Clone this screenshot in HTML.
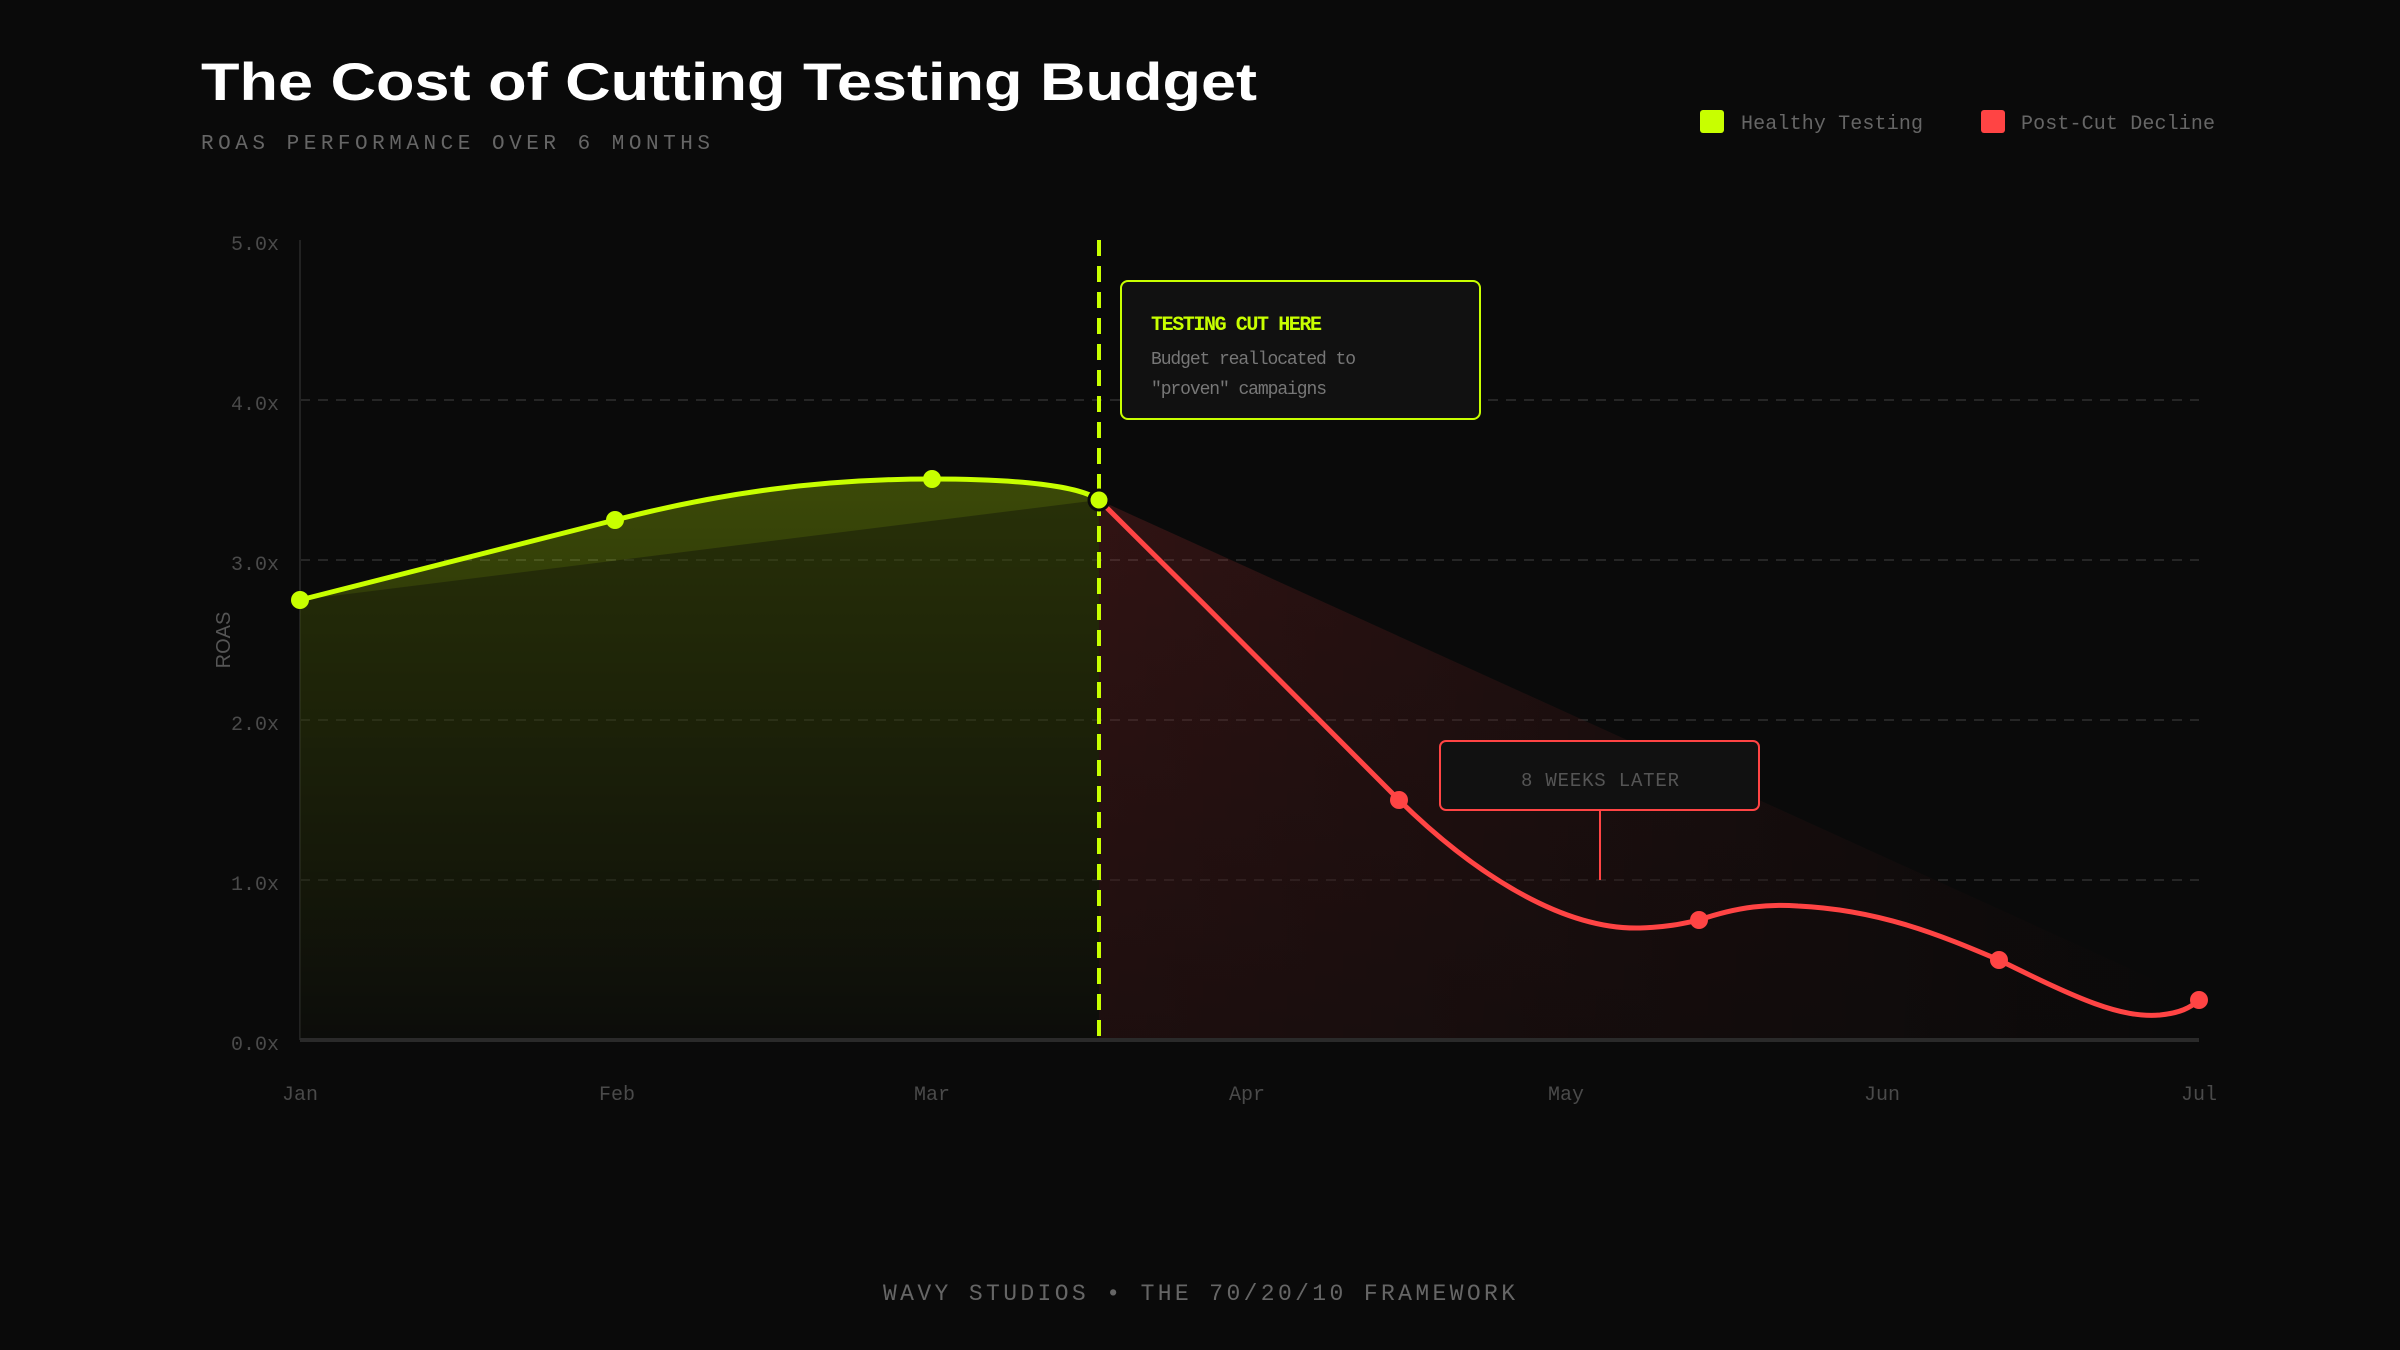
<!DOCTYPE html>
<html><head><meta charset="utf-8"><style>
html,body{margin:0;padding:0;background:#0a0a0a;}
svg{display:block;}
</style></head><body>
<svg width="2400" height="1350" viewBox="0 0 2400 1350" xmlns="http://www.w3.org/2000/svg">
<defs>
<linearGradient id="gg" x1="0" y1="480" x2="0" y2="1040" gradientUnits="userSpaceOnUse">
<stop offset="0" stop-color="#c8ff00" stop-opacity="0.26"/>
<stop offset="1" stop-color="#c8ff00" stop-opacity="0.02"/>
</linearGradient>
<linearGradient id="rg" x1="1099" y1="0" x2="2199" y2="0" gradientUnits="userSpaceOnUse">
<stop offset="0" stop-color="#ff4444" stop-opacity="0.16"/>
<stop offset="1" stop-color="#ff4444" stop-opacity="0.0"/>
</linearGradient>
<linearGradient id="rgv" x1="0" y1="500" x2="0" y2="1040" gradientUnits="userSpaceOnUse">
<stop offset="0" stop-color="#0a0a0a" stop-opacity="0"/>
<stop offset="1" stop-color="#0a0a0a" stop-opacity="0.5"/>
</linearGradient>
</defs>
<rect width="2400" height="1350" fill="#0a0a0a"/>

<!-- Title -->
<text x="201" y="100" font-family="Liberation Sans, sans-serif" font-weight="bold" font-size="53" fill="#ffffff" textLength="1056" lengthAdjust="spacingAndGlyphs">The Cost of Cutting Testing Budget</text>
<text x="201" y="149" font-family="Liberation Mono, monospace" font-size="21" fill="#666" textLength="509" lengthAdjust="spacing">ROAS PERFORMANCE OVER 6 MONTHS</text>

<!-- Legend -->
<rect x="1700" y="110" width="24" height="23" rx="3" fill="#c8ff00"/>
<text x="1741" y="129" font-family="Liberation Mono, monospace" font-size="20" fill="#666" textLength="182">Healthy Testing</text>
<rect x="1981" y="110" width="24" height="23" rx="3" fill="#ff4444"/>
<text x="2021" y="129" font-family="Liberation Mono, monospace" font-size="20" fill="#666" textLength="194">Post-Cut Decline</text>

<!-- grid -->
<g stroke="#262626" stroke-width="2" stroke-dasharray="10 8">
<line x1="300" y1="400" x2="2199" y2="400"/>
<line x1="300" y1="560" x2="2199" y2="560"/>
<line x1="300" y1="720" x2="2199" y2="720"/>
<line x1="300" y1="880" x2="2199" y2="880"/>
</g>
<line x1="300" y1="240" x2="300" y2="1040" stroke="#222" stroke-width="2"/>

<!-- y ticks -->
<g font-family="Liberation Mono, monospace" font-size="20" fill="#4a4a4a" text-anchor="end">
<text x="279" y="250">5.0x</text>
<text x="279" y="410">4.0x</text>
<text x="279" y="570">3.0x</text>
<text x="279" y="730">2.0x</text>
<text x="279" y="890">1.0x</text>
<text x="279" y="1050">0.0x</text>
</g>
<text transform="translate(230,640) rotate(-90)" text-anchor="middle" font-family="Liberation Sans, sans-serif" font-size="20" fill="#555">ROAS</text>

<!-- fills -->
<path d="M300,600 C420,570 520,545 615,520 C720,493 820,479 932,479 C1020,479 1080,486 1099,500 L1099,1040 L300,1040 Z" fill="url(#gg)"/>
<path d="M300,600 L1099,500 L1099,1040 L300,1040 Z" fill="#0a0a0a" fill-opacity="0.38"/>
<path d="M1099,500 L2199,1000 L2199,1040 L1099,1040 Z" fill="url(#rg)"/>
<path d="M1099,500 L2199,1000 L2199,1040 L1099,1040 Z" fill="url(#rgv)"/>

<!-- x axis -->
<line x1="300" y1="1040" x2="2199" y2="1040" stroke="#2a2a2a" stroke-width="4"/>

<!-- cut line -->
<line x1="1099" y1="240" x2="1099" y2="1040" stroke="#c8ff00" stroke-width="4" stroke-dasharray="16 10"/>

<!-- lines -->
<path d="M300,600 C420,570 520,545 615,520 C720,493 820,479 932,479 C1020,479 1080,486 1099,500" fill="none" stroke="#c8ff00" stroke-width="5"/>
<path d="M1099,500 C1200,600 1330,730 1399,800 C1470,870 1560,930 1640,928 C1670,927 1685,923 1699,920 C1740,906 1770,904 1798,906 C1880,910 1940,935 1999,960 C2080,1000 2120,1018 2160,1015 C2180,1013 2190,1008 2199,1000" fill="none" stroke="#ff4444" stroke-width="5"/>

<!-- dots -->
<g fill="#c8ff00">
<circle cx="300" cy="600" r="9"/>
<circle cx="615" cy="520" r="9"/>
<circle cx="932" cy="479" r="9"/>
</g>
<circle cx="1099" cy="500" r="10" fill="#c8ff00" stroke="#0a0a0a" stroke-width="3"/>
<g fill="#ff4444">
<circle cx="1399" cy="800" r="9"/>
<circle cx="1699" cy="920" r="9"/>
<circle cx="1999" cy="960" r="9"/>
<circle cx="2199" cy="1000" r="9"/>
</g>

<!-- annotation 1 -->
<rect x="1121" y="281" width="359" height="138" rx="7" fill="#111" stroke="#c8ff00" stroke-width="2"/>
<text x="1151" y="330" font-family="Liberation Mono, monospace" font-weight="bold" font-size="20" fill="#c8ff00" textLength="171">TESTING CUT HERE</text>
<text x="1151" y="364" font-family="Liberation Mono, monospace" font-size="18" fill="#777" textLength="205">Budget reallocated to</text>
<text x="1151" y="394" font-family="Liberation Mono, monospace" font-size="18" fill="#777" textLength="176">"proven" campaigns</text>

<!-- annotation 2 -->
<line x1="1600" y1="810" x2="1600" y2="880" stroke="#ff4444" stroke-width="2"/>
<rect x="1440" y="741" width="319" height="69" rx="6" fill="#111" stroke="#ff4444" stroke-width="2"/>
<text x="1600" y="786" text-anchor="middle" font-family="Liberation Mono, monospace" font-size="19" fill="#555" textLength="158">8 WEEKS LATER</text>

<!-- x labels -->
<g font-family="Liberation Mono, monospace" font-size="20" fill="#4a4a4a" text-anchor="middle">
<text x="300" y="1100">Jan</text>
<text x="617" y="1100">Feb</text>
<text x="932" y="1100">Mar</text>
<text x="1247" y="1100">Apr</text>
<text x="1566" y="1100">May</text>
<text x="1882" y="1100">Jun</text>
<text x="2199" y="1100">Jul</text>
</g>

<!-- footer -->
<text x="883" y="1300" font-family="Liberation Mono, monospace" font-size="23" fill="#666" textLength="632" lengthAdjust="spacing">WAVY STUDIOS • THE 70/20/10 FRAMEWORK</text>
</svg>
</body></html>
